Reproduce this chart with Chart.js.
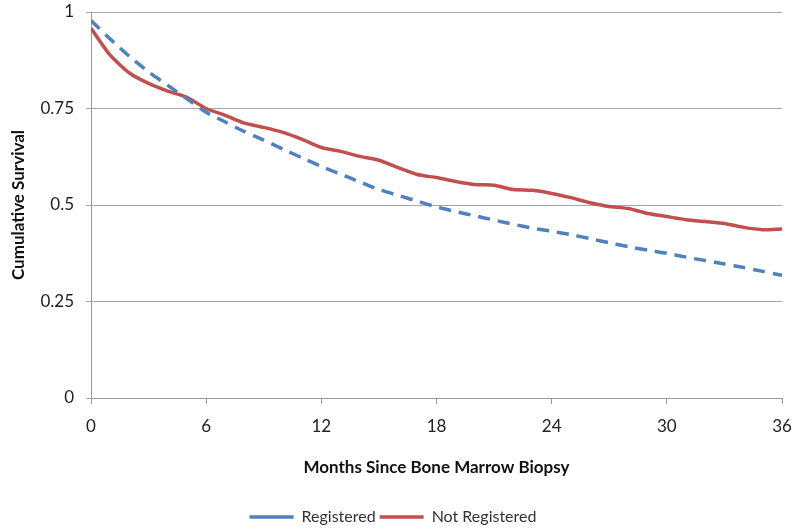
<!DOCTYPE html>
<html>
<head>
<script src="https://cdn.jsdelivr.net/npm/chart.js@4.4.0/dist/chart.umd.min.js"></script>
<style>
  body { margin: 0; background: #fff; }
  #wrap { width: 800px; height: 530px; }
</style>
</head>
<body>
<div id="wrap"><canvas id="myChart" width="800" height="530"></canvas></div>
<script>
// months since biopsy
var months = [];
for (var m = 0; m <= 36; m++) months.push(m);

var registered = [0.978, 0.93, 0.885, 0.845, 0.81, 0.775, 0.74, 0.715, 0.69, 0.668,
    0.645, 0.622, 0.60, 0.58, 0.56, 0.54, 0.525, 0.51, 0.495, 0.483,
    0.472, 0.461, 0.45, 0.44, 0.432, 0.423, 0.413, 0.402, 0.392, 0.383,
    0.375, 0.365, 0.356, 0.347, 0.338, 0.328, 0.318];

var notRegistered = [0.958, 0.888, 0.842, 0.815, 0.795, 0.779, 0.75, 0.732, 0.712, 0.701,
    0.688, 0.67, 0.649, 0.639, 0.626, 0.616, 0.597, 0.579, 0.571, 0.561,
    0.553, 0.551, 0.54, 0.538, 0.530, 0.519, 0.506, 0.496, 0.491, 0.478,
    0.47, 0.462, 0.457, 0.452, 0.442, 0.436, 0.438];

var yTicks = [0, 0.25, 0.5, 0.75, 1];
var yTickLabels = ['0', '0.25', '0.5', '0.75', '1'];
var xTicks = [0, 6, 12, 18, 24, 30, 36];

function pts(vals) {
    return months.map(function (x, i) { return { x: x, y: vals[i] }; });
}

var FONT = "Lato, 'Open Sans', Arial, sans-serif";
Chart.defaults.font.family = FONT;
Chart.defaults.color = '#222';

var ctx = document.getElementById('myChart').getContext('2d');
var myChart = new Chart(ctx, {
    type: 'line',
    data: {
        datasets: [{
            label: 'Registered',
            data: pts(registered),
            borderColor: '#4F81BD',
            backgroundColor: '#4F81BD',
            borderWidth: 3.5,
            borderDash: [12, 8],
            pointRadius: 0,
            tension: 0.2,
            fill: false
        }, {
            label: 'Not Registered',
            data: pts(notRegistered),
            borderColor: '#C0504D',
            backgroundColor: '#C0504D',
            borderWidth: 3.5,
            pointRadius: 0,
            tension: 0.2,
            fill: false
        }]
    },
    options: {
        responsive: false,
        animation: false,
        layout: { padding: { top: 12, right: 18, left: 4, bottom: -5 } },
        plugins: {
            tooltip: { enabled: false },
            legend: {
                position: 'bottom',
                labels: {
                    usePointStyle: true,
                    pointStyle: 'line',
                    pointStyleWidth: 44,
                    boxHeight: 3,
                    padding: 4,
                    color: '#333',
                    font: { size: 16 }
                }
            }
        },
        scales: {
            x: {
                type: 'linear',
                min: 0,
                max: 36,
                afterBuildTicks: function (s) { s.ticks = xTicks.map(function (v) { return { value: v }; }); },
                afterFit: function (s) { s.height = 107; s.paddingLeft = 0; s.paddingRight = 0; },
                border: { color: '#999', width: 1 },
                grid: { drawOnChartArea: false, drawTicks: true, tickLength: 6, color: '#999' },
                ticks: { font: { size: 17 }, color: '#222', padding: 12, maxRotation: 0 },
                title: {
                    display: true,
                    text: 'Months Since Bone Marrow Biopsy',
                    font: { size: 17, weight: 'bold' },
                    color: '#111',
                    padding: { top: 10, bottom: 27 }
                }
            },
            y: {
                min: 0,
                max: 1,
                afterBuildTicks: function (s) { s.ticks = yTicks.map(function (v) { return { value: v }; }); },
                afterFit: function (s) { s.width = 87; s.paddingTop = 0; s.paddingBottom = 0; },
                border: { color: '#999', width: 1 },
                grid: { color: '#a6a6a6', tickLength: 5 },
                ticks: {
                    font: { size: 17 }, color: '#222', padding: 12,
                    callback: function (v) { return yTickLabels[yTicks.indexOf(v)]; }
                },
                title: {
                    display: true,
                    text: 'Cumulative Survival',
                    font: { size: 17, weight: 'bold' },
                    color: '#111',
                    padding: { bottom: 10 }
                }
            }
        }
    }
});
</script>
</body>
</html>
